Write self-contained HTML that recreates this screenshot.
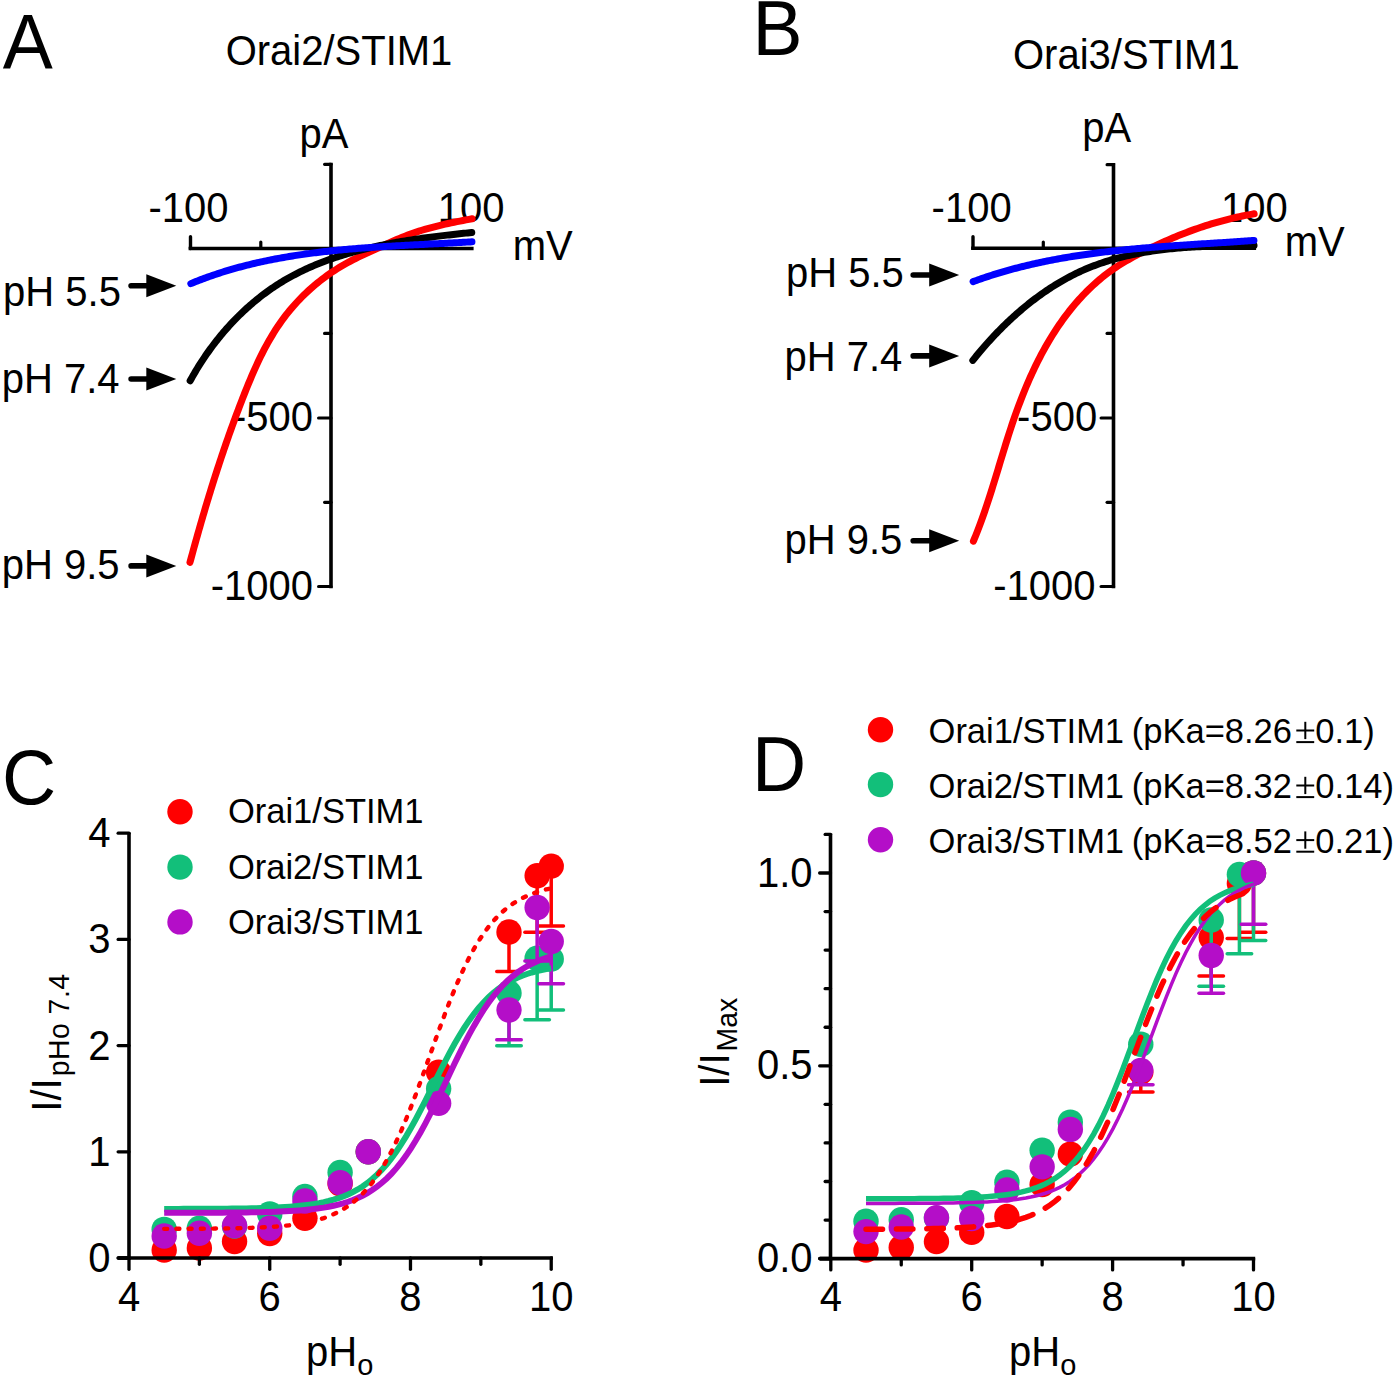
<!DOCTYPE html>
<html><head><meta charset="utf-8"><style>
html,body{margin:0;padding:0;background:#fff;width:1395px;height:1378px;overflow:hidden;}
svg{display:block;}
text{font-family:"Liberation Sans", sans-serif;fill:#000;}
</style></head><body>
<svg width="1395" height="1378" viewBox="0 0 1395 1378">
<rect width="1395" height="1378" fill="#fff"/>
<line x1="331" y1="162.7" x2="331" y2="588.25" stroke="#000" stroke-width="3.6" stroke-linecap="butt" />
<line x1="324.6" y1="164.3" x2="331" y2="164.3" stroke="#000" stroke-width="3.2" stroke-linecap="round" />
<line x1="324.6" y1="333.4" x2="331" y2="333.4" stroke="#000" stroke-width="3.2" stroke-linecap="round" />
<line x1="318.6" y1="418" x2="331" y2="418" stroke="#000" stroke-width="3.2" stroke-linecap="round" />
<line x1="324.6" y1="502.3" x2="331" y2="502.3" stroke="#000" stroke-width="3.2" stroke-linecap="round" />
<line x1="318.6" y1="586.5" x2="331" y2="586.5" stroke="#000" stroke-width="3.2" stroke-linecap="round" />
<line x1="188.6" y1="248.5" x2="473.6" y2="248.5" stroke="#000" stroke-width="3.4" stroke-linecap="butt" />
<line x1="190.5" y1="236.7" x2="190.5" y2="248.5" stroke="#000" stroke-width="3.4" stroke-linecap="round" />
<line x1="260.8" y1="242" x2="260.8" y2="248.5" stroke="#000" stroke-width="3.2" stroke-linecap="round" />
<text transform="translate(299.42,148.2) scale(1,1.04)" font-size="40" text-anchor="start" >pA</text>
<text transform="translate(148.42,221.6) scale(1,1.04)" font-size="40" text-anchor="start" >-100</text>
<text transform="translate(437.85,222) scale(1,1.04)" font-size="40" text-anchor="start" >100</text>
<text transform="translate(512.74,260.3) scale(1,1.04)" font-size="40" text-anchor="start" >mV</text>
<text transform="translate(313.06,430.6) scale(1,1.04)" font-size="40" text-anchor="end" >-500</text>
<text transform="translate(313.06,600.4) scale(1,1.04)" font-size="40" text-anchor="end" >-1000</text>
<text transform="translate(3.12,305.9) scale(1,1.04)" font-size="40" text-anchor="start" >pH 5.5</text>
<text transform="translate(1.72,393.4) scale(1,1.04)" font-size="40" text-anchor="start" >pH 7.4</text>
<text transform="translate(1.72,578.8) scale(1,1.04)" font-size="40" text-anchor="start" >pH 9.5</text>
<line x1="131.1" y1="285.8" x2="154.3" y2="285.8" stroke="#000" stroke-width="5.6" stroke-linecap="round" />
<path d="M146.3,274.3 L176.3,285.8 L146.3,297.3 Z" fill="#000"/>
<line x1="131.1" y1="379" x2="154.3" y2="379" stroke="#000" stroke-width="5.6" stroke-linecap="round" />
<path d="M146.3,367.5 L176.3,379 L146.3,390.5 Z" fill="#000"/>
<line x1="131.1" y1="565.9" x2="154.3" y2="565.9" stroke="#000" stroke-width="5.6" stroke-linecap="round" />
<path d="M146.3,554.4 L176.3,565.9 L146.3,577.4 Z" fill="#000"/>
<text transform="translate(225.7,65.1) scale(1,1.04)" font-size="40" text-anchor="start" >Orai2/STIM1</text>
<text transform="translate(2.85,68.6) scale(1,1.04)" font-size="75" text-anchor="start" >A</text>
<path d="M189.96,562.43 L190.76,559.47 L191.56,556.52 L192.37,553.57 L193.17,550.62 L193.98,547.68 L194.79,544.74 L195.61,541.81 L196.43,538.88 L197.25,535.95 L198.08,533.03 L198.91,530.11 L199.74,527.19 L200.58,524.28 L201.42,521.37 L202.26,518.46 L203.11,515.55 L203.97,512.65 L204.82,509.75 L205.68,506.86 L206.55,503.97 L207.42,501.08 L208.3,498.19 L209.18,495.3 L210.06,492.42 L210.95,489.54 L211.85,486.66 L212.75,483.79 L213.65,480.92 L214.56,478.05 L215.48,475.18 L216.4,472.31 L217.33,469.45 L218.26,466.58 L219.2,463.72 L220.14,460.87 L221.1,458.01 L222.05,455.15 L223.02,452.3 L223.99,449.45 L224.96,446.6 L225.94,443.75 L226.93,440.9 L227.93,438.05 L228.93,435.21 L229.94,432.36 L230.96,429.52 L231.99,426.68 L233.02,423.84 L234.06,421 L235.1,418.16 L236.16,415.32 L237.22,412.48 L238.29,409.65 L239.37,406.81 L240.45,403.97 L241.54,401.14 L242.65,398.3 L243.76,395.47 L244.88,392.63 L246.01,389.8 L247.15,386.97 L248.3,384.15 L249.47,381.33 L250.65,378.52 L251.85,375.71 L253.06,372.91 L254.29,370.13 L255.54,367.35 L256.8,364.58 L258.09,361.82 L259.4,359.07 L260.73,356.34 L262.09,353.63 L263.47,350.92 L264.87,348.24 L266.3,345.57 L267.76,342.92 L269.25,340.29 L270.77,337.68 L272.31,335.09 L273.89,332.52 L275.5,329.97 L277.14,327.45 L278.82,324.95 L280.53,322.48 L282.28,320.04 L284.07,317.62 L285.89,315.23 L287.75,312.87 L289.65,310.53 L291.58,308.23 L293.55,305.96 L295.55,303.71 L297.59,301.5 L299.66,299.32 L301.76,297.17 L303.9,295.05 L306.07,292.96 L308.27,290.9 L310.5,288.88 L312.77,286.89 L315.06,284.93 L317.38,283.01 L319.74,281.12 L322.12,279.27 L324.53,277.45 L326.97,275.67 L329.43,273.92 L331.93,272.21 L334.44,270.54 L336.99,268.91 L339.56,267.31 L342.15,265.75 L344.77,264.22 L347.42,262.74 L350.08,261.3 L352.77,259.89 L355.48,258.51 L358.2,257.16 L360.94,255.84 L363.69,254.54 L366.44,253.26 L369.21,252 L371.97,250.74 L374.74,249.49 L377.5,248.25 L380.26,247.01 L383.02,245.76 L385.76,244.51 L388.5,243.26 L391.24,242.01 L393.98,240.78 L396.72,239.57 L399.47,238.39 L402.23,237.24 L405,236.13 L407.79,235.07 L410.58,234.04 L413.4,233.05 L416.22,232.09 L419.06,231.17 L421.91,230.28 L424.77,229.43 L427.65,228.6 L430.54,227.8 L433.43,227.03 L436.34,226.29 L439.27,225.57 L442.2,224.87 L445.14,224.19 L448.1,223.53 L451.06,222.89 L454.04,222.27 L457.02,221.66 L460.02,221.07 L463.02,220.49 L466.04,219.92 L469.06,219.35 L472.1,218.8" fill="none" stroke="#ff0000" stroke-width="7.0" stroke-linecap="round" stroke-linejoin="round"/>
<path d="M190.15,380.8 L191.17,378.95 L192.2,377.11 L193.25,375.27 L194.31,373.44 L195.38,371.62 L196.47,369.81 L197.57,368 L198.68,366.2 L199.81,364.41 L200.95,362.63 L202.1,360.86 L203.27,359.09 L204.44,357.33 L205.64,355.58 L206.84,353.84 L208.06,352.11 L209.29,350.39 L210.53,348.67 L211.79,346.97 L213.05,345.28 L214.34,343.59 L215.63,341.92 L216.93,340.25 L218.25,338.6 L219.58,336.95 L220.92,335.32 L222.28,333.7 L223.64,332.09 L225.02,330.49 L226.41,328.9 L227.82,327.32 L229.23,325.75 L230.66,324.2 L232.09,322.66 L233.54,321.13 L235,319.61 L236.48,318.1 L237.96,316.61 L239.46,315.13 L240.97,313.66 L242.48,312.21 L244.01,310.77 L245.56,309.34 L247.11,307.93 L248.67,306.53 L250.25,305.14 L251.83,303.77 L253.43,302.42 L255.04,301.07 L256.66,299.74 L258.28,298.43 L259.92,297.13 L261.58,295.85 L263.24,294.58 L264.91,293.33 L266.59,292.09 L268.28,290.87 L269.99,289.67 L271.7,288.48 L273.43,287.31 L275.16,286.15 L276.91,285.01 L278.66,283.89 L280.42,282.78 L282.2,281.69 L283.98,280.62 L285.78,279.57 L287.58,278.53 L289.4,277.51 L291.22,276.5 L293.05,275.51 L294.89,274.54 L296.74,273.58 L298.6,272.64 L300.47,271.72 L302.34,270.81 L304.22,269.91 L306.11,269.03 L308.01,268.16 L309.92,267.31 L311.83,266.48 L313.76,265.65 L315.68,264.85 L317.62,264.05 L319.56,263.27 L321.51,262.51 L323.47,261.75 L325.43,261.01 L327.4,260.29 L329.37,259.57 L331.36,258.87 L333.34,258.19 L335.34,257.51 L337.33,256.85 L339.34,256.2 L341.35,255.56 L343.36,254.93 L345.38,254.32 L347.4,253.71 L349.43,253.12 L351.46,252.54 L353.5,251.97 L355.54,251.41 L357.59,250.86 L359.64,250.33 L361.69,249.8 L363.75,249.28 L365.81,248.78 L367.87,248.28 L369.94,247.79 L372,247.32 L374.08,246.85 L376.15,246.39 L378.23,245.94 L380.31,245.5 L382.39,245.07 L384.47,244.64 L386.56,244.23 L388.64,243.82 L390.73,243.42 L392.82,243.03 L394.91,242.65 L397.01,242.28 L399.1,241.91 L401.19,241.55 L403.29,241.2 L405.38,240.85 L407.48,240.51 L409.57,240.18 L411.67,239.85 L413.76,239.53 L415.86,239.22 L417.95,238.91 L420.05,238.61 L422.14,238.31 L424.23,238.02 L426.33,237.74 L428.42,237.46 L430.5,237.18 L432.59,236.91 L434.68,236.65 L436.76,236.39 L438.84,236.13 L440.92,235.88 L443,235.63 L445.07,235.38 L447.14,235.14 L449.21,234.91 L451.28,234.67 L453.34,234.44 L455.4,234.21 L457.46,233.99 L459.51,233.77 L461.56,233.55 L463.61,233.33 L465.65,233.12 L467.69,232.9 L469.72,232.69 L471.75,232.48" fill="none" stroke="#000" stroke-width="7.0" stroke-linecap="round" stroke-linejoin="round"/>
<path d="M190.83,283.62 L192.5,282.93 L194.17,282.25 L195.84,281.58 L197.52,280.92 L199.19,280.27 L200.87,279.62 L202.55,278.99 L204.24,278.36 L205.92,277.74 L207.61,277.13 L209.3,276.53 L210.99,275.93 L212.69,275.34 L214.39,274.77 L216.08,274.2 L217.79,273.63 L219.49,273.08 L221.19,272.53 L222.9,271.99 L224.61,271.46 L226.32,270.93 L228.03,270.42 L229.75,269.91 L231.46,269.41 L233.18,268.91 L234.9,268.42 L236.63,267.94 L238.35,267.47 L240.07,267 L241.8,266.54 L243.53,266.09 L245.26,265.65 L247,265.21 L248.73,264.77 L250.47,264.35 L252.2,263.93 L253.94,263.52 L255.68,263.11 L257.43,262.71 L259.17,262.32 L260.92,261.93 L262.66,261.55 L264.41,261.18 L266.16,260.81 L267.92,260.44 L269.67,260.09 L271.42,259.74 L273.18,259.39 L274.94,259.05 L276.7,258.72 L278.46,258.39 L280.22,258.07 L281.98,257.75 L283.74,257.44 L285.51,257.13 L287.28,256.83 L289.04,256.53 L290.81,256.24 L292.58,255.96 L294.35,255.67 L296.13,255.4 L297.9,255.13 L299.67,254.86 L301.45,254.6 L303.23,254.34 L305,254.09 L306.78,253.84 L308.56,253.6 L310.34,253.36 L312.12,253.13 L313.91,252.9 L315.69,252.67 L317.47,252.45 L319.26,252.23 L321.05,252.02 L322.83,251.81 L324.62,251.6 L326.41,251.4 L328.2,251.2 L329.99,251.01 L331.78,250.82 L333.57,250.63 L335.36,250.45 L337.15,250.27 L338.95,250.09 L340.74,249.92 L342.53,249.75 L344.33,249.58 L346.12,249.41 L347.92,249.25 L349.72,249.1 L351.51,248.94 L353.31,248.79 L355.11,248.64 L356.91,248.49 L358.71,248.35 L360.51,248.21 L362.31,248.07 L364.11,247.93 L365.91,247.8 L367.71,247.67 L369.51,247.54 L371.31,247.41 L373.11,247.28 L374.91,247.16 L376.71,247.04 L378.51,246.92 L380.32,246.8 L382.12,246.69 L383.92,246.58 L385.72,246.46 L387.52,246.35 L389.33,246.25 L391.13,246.14 L392.93,246.03 L394.73,245.93 L396.54,245.83 L398.34,245.72 L400.14,245.62 L401.94,245.52 L403.74,245.42 L405.55,245.33 L407.35,245.23 L409.15,245.13 L410.95,245.04 L412.75,244.95 L414.55,244.85 L416.35,244.76 L418.15,244.67 L419.95,244.57 L421.75,244.48 L423.55,244.39 L425.35,244.3 L427.15,244.21 L428.95,244.12 L430.74,244.03 L432.54,243.94 L434.34,243.84 L436.13,243.75 L437.93,243.66 L439.73,243.57 L441.52,243.48 L443.31,243.39 L445.11,243.29 L446.9,243.2 L448.69,243.11 L450.48,243.01 L452.27,242.92 L454.07,242.82 L455.85,242.73 L457.64,242.63 L459.43,242.53 L461.22,242.43 L463,242.33 L464.79,242.23 L466.57,242.12 L468.36,242.02 L470.14,241.91 L471.92,241.81" fill="none" stroke="#0000ff" stroke-width="7.0" stroke-linecap="round" stroke-linejoin="round"/>
<line x1="1113.5" y1="163.1" x2="1113.5" y2="588.25" stroke="#000" stroke-width="3.6" stroke-linecap="butt" />
<line x1="1107.1" y1="164.7" x2="1113.5" y2="164.7" stroke="#000" stroke-width="3.2" stroke-linecap="round" />
<line x1="1107.1" y1="333.4" x2="1113.5" y2="333.4" stroke="#000" stroke-width="3.2" stroke-linecap="round" />
<line x1="1101.1" y1="418" x2="1113.5" y2="418" stroke="#000" stroke-width="3.2" stroke-linecap="round" />
<line x1="1107.1" y1="502.3" x2="1113.5" y2="502.3" stroke="#000" stroke-width="3.2" stroke-linecap="round" />
<line x1="1101.1" y1="586.5" x2="1113.5" y2="586.5" stroke="#000" stroke-width="3.2" stroke-linecap="round" />
<line x1="971.1" y1="248.2" x2="1256.1" y2="248.2" stroke="#000" stroke-width="3.4" stroke-linecap="butt" />
<line x1="973" y1="236.7" x2="973" y2="248.2" stroke="#000" stroke-width="3.4" stroke-linecap="round" />
<line x1="1043.3" y1="242" x2="1043.3" y2="248.2" stroke="#000" stroke-width="3.2" stroke-linecap="round" />
<text transform="translate(1082.22,141.8) scale(1,1.04)" font-size="40" text-anchor="start" >pA</text>
<text transform="translate(931.62,221.8) scale(1,1.04)" font-size="40" text-anchor="start" >-100</text>
<text transform="translate(1220.95,221.6) scale(1,1.04)" font-size="40" text-anchor="start" >100</text>
<text transform="translate(1284.64,256) scale(1,1.04)" font-size="40" text-anchor="start" >mV</text>
<text transform="translate(1097.16,430.7) scale(1,1.04)" font-size="40" text-anchor="end" >-500</text>
<text transform="translate(1095.56,600.4) scale(1,1.04)" font-size="40" text-anchor="end" >-1000</text>
<text transform="translate(786.02,287.3) scale(1,1.04)" font-size="40" text-anchor="start" >pH 5.5</text>
<text transform="translate(784.42,370.9) scale(1,1.04)" font-size="40" text-anchor="start" >pH 7.4</text>
<text transform="translate(784.42,553.6) scale(1,1.04)" font-size="40" text-anchor="start" >pH 9.5</text>
<line x1="913.2" y1="275" x2="937.2" y2="275" stroke="#000" stroke-width="5.6" stroke-linecap="round" />
<path d="M929.2,263.5 L959.2,275 L929.2,286.5 Z" fill="#000"/>
<line x1="913.2" y1="355.9" x2="937.2" y2="355.9" stroke="#000" stroke-width="5.6" stroke-linecap="round" />
<path d="M929.2,344.4 L959.2,355.9 L929.2,367.4 Z" fill="#000"/>
<line x1="913.2" y1="540.7" x2="937.2" y2="540.7" stroke="#000" stroke-width="5.6" stroke-linecap="round" />
<path d="M929.2,529.2 L959.2,540.7 L929.2,552.2 Z" fill="#000"/>
<text transform="translate(1013,69.4) scale(1,1.04)" font-size="40" text-anchor="start" >Orai3/STIM1</text>
<text transform="translate(752.45,55) scale(1,1.04)" font-size="75" text-anchor="start" >B</text>
<path d="M973.42,541.15 L974.55,538.43 L975.66,535.7 L976.74,532.97 L977.81,530.23 L978.86,527.49 L979.9,524.75 L980.91,522 L981.91,519.26 L982.89,516.5 L983.86,513.75 L984.82,510.99 L985.76,508.23 L986.69,505.47 L987.6,502.71 L988.51,499.94 L989.41,497.17 L990.3,494.4 L991.18,491.63 L992.05,488.85 L992.91,486.08 L993.77,483.3 L994.63,480.52 L995.48,477.75 L996.32,474.97 L997.17,472.19 L998.01,469.4 L998.85,466.62 L999.69,463.84 L1000.53,461.06 L1001.38,458.28 L1002.22,455.5 L1003.07,452.72 L1003.92,449.94 L1004.77,447.16 L1005.63,444.38 L1006.5,441.6 L1007.38,438.82 L1008.26,436.05 L1009.15,433.27 L1010.05,430.5 L1010.96,427.73 L1011.88,424.96 L1012.81,422.19 L1013.75,419.42 L1014.71,416.66 L1015.68,413.9 L1016.67,411.14 L1017.67,408.38 L1018.68,405.63 L1019.72,402.89 L1020.76,400.14 L1021.82,397.41 L1022.9,394.68 L1024,391.95 L1025.11,389.23 L1026.24,386.52 L1027.38,383.82 L1028.55,381.12 L1029.73,378.43 L1030.93,375.75 L1032.15,373.08 L1033.38,370.42 L1034.64,367.78 L1035.92,365.14 L1037.21,362.51 L1038.53,359.89 L1039.87,357.29 L1041.22,354.7 L1042.6,352.12 L1044,349.56 L1045.42,347.01 L1046.87,344.47 L1048.34,341.95 L1049.82,339.45 L1051.34,336.96 L1052.87,334.48 L1054.43,332.03 L1056.01,329.59 L1057.62,327.17 L1059.25,324.76 L1060.91,322.38 L1062.59,320.01 L1064.3,317.67 L1066.03,315.34 L1067.79,313.04 L1069.57,310.75 L1071.38,308.49 L1073.22,306.25 L1075.09,304.03 L1076.98,301.84 L1078.9,299.67 L1080.85,297.53 L1082.82,295.41 L1084.83,293.32 L1086.86,291.25 L1088.92,289.22 L1091.01,287.22 L1093.13,285.24 L1095.28,283.3 L1097.46,281.38 L1099.66,279.5 L1101.9,277.65 L1104.17,275.84 L1106.47,274.06 L1108.79,272.31 L1111.15,270.6 L1113.54,268.93 L1115.96,267.29 L1118.41,265.69 L1120.89,264.12 L1123.39,262.59 L1125.92,261.09 L1128.46,259.61 L1131.02,258.17 L1133.6,256.75 L1136.19,255.35 L1138.8,253.98 L1141.41,252.63 L1144.03,251.29 L1146.66,249.98 L1149.29,248.68 L1151.92,247.4 L1154.56,246.14 L1157.2,244.89 L1159.84,243.67 L1162.49,242.46 L1165.15,241.26 L1167.81,240.09 L1170.48,238.94 L1173.15,237.8 L1175.83,236.68 L1178.51,235.59 L1181.2,234.51 L1183.9,233.45 L1186.6,232.41 L1189.32,231.39 L1192.03,230.39 L1194.76,229.41 L1197.49,228.45 L1200.23,227.51 L1202.98,226.59 L1205.74,225.69 L1208.51,224.82 L1211.28,223.96 L1214.07,223.13 L1216.86,222.31 L1219.66,221.52 L1222.48,220.76 L1225.3,220.01 L1228.13,219.29 L1230.97,218.59 L1233.83,217.91 L1236.69,217.25 L1239.57,216.62 L1242.45,216.01 L1245.35,215.43 L1248.26,214.86 L1251.18,214.33 L1254.12,213.81" fill="none" stroke="#ff0000" stroke-width="7.0" stroke-linecap="round" stroke-linejoin="round"/>
<path d="M972.83,360.42 L974.05,358.88 L975.27,357.35 L976.51,355.83 L977.76,354.31 L979.02,352.79 L980.29,351.27 L981.57,349.76 L982.86,348.26 L984.15,346.76 L985.46,345.26 L986.78,343.77 L988.1,342.28 L989.44,340.8 L990.78,339.33 L992.14,337.86 L993.5,336.39 L994.88,334.94 L996.26,333.49 L997.65,332.04 L999.05,330.6 L1000.46,329.17 L1001.88,327.75 L1003.31,326.34 L1004.74,324.93 L1006.19,323.53 L1007.64,322.13 L1009.11,320.75 L1010.58,319.37 L1012.06,318.01 L1013.55,316.65 L1015.05,315.3 L1016.56,313.96 L1018.07,312.63 L1019.59,311.3 L1021.13,309.99 L1022.67,308.69 L1024.22,307.4 L1025.77,306.12 L1027.34,304.85 L1028.91,303.59 L1030.49,302.34 L1032.08,301.1 L1033.68,299.87 L1035.29,298.66 L1036.9,297.45 L1038.52,296.26 L1040.15,295.08 L1041.79,293.92 L1043.44,292.76 L1045.09,291.62 L1046.75,290.49 L1048.42,289.38 L1050.09,288.27 L1051.78,287.18 L1053.47,286.11 L1055.17,285.05 L1056.87,284 L1058.58,282.97 L1060.3,281.95 L1062.03,280.95 L1063.77,279.96 L1065.51,278.98 L1067.26,278.03 L1069.01,277.08 L1070.77,276.16 L1072.54,275.24 L1074.32,274.35 L1076.1,273.47 L1077.89,272.61 L1079.69,271.76 L1081.5,270.93 L1083.31,270.12 L1085.12,269.33 L1086.95,268.55 L1088.78,267.79 L1090.61,267.05 L1092.46,266.32 L1094.3,265.61 L1096.16,264.92 L1098.02,264.25 L1099.89,263.58 L1101.76,262.94 L1103.63,262.31 L1105.52,261.7 L1107.41,261.1 L1109.3,260.52 L1111.2,259.95 L1113.1,259.4 L1115.01,258.86 L1116.92,258.33 L1118.84,257.82 L1120.76,257.33 L1122.69,256.85 L1124.62,256.38 L1126.56,255.92 L1128.5,255.48 L1130.44,255.05 L1132.39,254.63 L1134.34,254.23 L1136.29,253.84 L1138.25,253.46 L1140.21,253.09 L1142.18,252.73 L1144.15,252.39 L1146.12,252.06 L1148.09,251.73 L1150.07,251.42 L1152.05,251.12 L1154.03,250.83 L1156.02,250.55 L1158,250.28 L1159.99,250.02 L1161.98,249.78 L1163.98,249.54 L1165.97,249.31 L1167.97,249.08 L1169.97,248.87 L1171.97,248.67 L1173.98,248.47 L1175.98,248.29 L1177.99,248.11 L1179.99,247.94 L1182,247.78 L1184.01,247.62 L1186.02,247.48 L1188.03,247.34 L1190.04,247.2 L1192.05,247.08 L1194.06,246.96 L1196.08,246.84 L1198.09,246.74 L1200.1,246.64 L1202.11,246.54 L1204.12,246.45 L1206.14,246.37 L1208.15,246.29 L1210.16,246.21 L1212.17,246.15 L1214.18,246.08 L1216.19,246.02 L1218.2,245.97 L1220.2,245.92 L1222.21,245.87 L1224.21,245.82 L1226.22,245.78 L1228.22,245.75 L1230.22,245.71 L1232.22,245.68 L1234.21,245.65 L1236.21,245.63 L1238.2,245.61 L1240.19,245.58 L1242.18,245.56 L1244.16,245.55 L1246.14,245.53 L1248.13,245.52 L1250.1,245.5 L1252.08,245.49 L1254.05,245.48" fill="none" stroke="#000" stroke-width="7.0" stroke-linecap="round" stroke-linejoin="round"/>
<path d="M973.1,281.66 L974.79,281.04 L976.47,280.43 L978.16,279.82 L979.85,279.22 L981.55,278.63 L983.24,278.05 L984.94,277.47 L986.64,276.9 L988.34,276.33 L990.04,275.78 L991.74,275.23 L993.45,274.69 L995.16,274.15 L996.87,273.62 L998.58,273.1 L1000.29,272.59 L1002.01,272.08 L1003.72,271.58 L1005.44,271.08 L1007.16,270.59 L1008.88,270.11 L1010.6,269.64 L1012.33,269.17 L1014.05,268.7 L1015.78,268.25 L1017.51,267.79 L1019.24,267.35 L1020.97,266.91 L1022.71,266.48 L1024.44,266.05 L1026.18,265.63 L1027.91,265.22 L1029.65,264.81 L1031.39,264.4 L1033.14,264.01 L1034.88,263.61 L1036.62,263.23 L1038.37,262.85 L1040.12,262.47 L1041.87,262.1 L1043.61,261.74 L1045.37,261.38 L1047.12,261.02 L1048.87,260.67 L1050.63,260.33 L1052.38,259.99 L1054.14,259.65 L1055.9,259.33 L1057.66,259 L1059.42,258.68 L1061.18,258.37 L1062.94,258.06 L1064.7,257.75 L1066.47,257.45 L1068.23,257.15 L1070,256.86 L1071.77,256.58 L1073.54,256.29 L1075.31,256.01 L1077.08,255.74 L1078.85,255.47 L1080.62,255.2 L1082.39,254.94 L1084.17,254.68 L1085.94,254.43 L1087.72,254.18 L1089.49,253.94 L1091.27,253.69 L1093.05,253.46 L1094.83,253.22 L1096.61,252.99 L1098.39,252.76 L1100.17,252.54 L1101.95,252.32 L1103.73,252.1 L1105.51,251.89 L1107.3,251.68 L1109.08,251.47 L1110.86,251.27 L1112.65,251.07 L1114.43,250.87 L1116.22,250.68 L1118.01,250.48 L1119.79,250.3 L1121.58,250.11 L1123.37,249.93 L1125.16,249.75 L1126.95,249.57 L1128.74,249.4 L1130.53,249.23 L1132.32,249.06 L1134.11,248.89 L1135.9,248.73 L1137.69,248.56 L1139.48,248.4 L1141.27,248.25 L1143.06,248.09 L1144.86,247.94 L1146.65,247.79 L1148.44,247.64 L1150.23,247.49 L1152.03,247.35 L1153.82,247.2 L1155.61,247.06 L1157.41,246.92 L1159.2,246.79 L1160.99,246.65 L1162.79,246.52 L1164.58,246.38 L1166.37,246.25 L1168.17,246.12 L1169.96,245.99 L1171.75,245.87 L1173.55,245.74 L1175.34,245.61 L1177.14,245.49 L1178.93,245.37 L1180.72,245.25 L1182.52,245.13 L1184.31,245.01 L1186.1,244.89 L1187.89,244.77 L1189.69,244.65 L1191.48,244.54 L1193.27,244.42 L1195.06,244.31 L1196.85,244.19 L1198.65,244.08 L1200.44,243.97 L1202.23,243.85 L1204.02,243.74 L1205.81,243.63 L1207.6,243.51 L1209.39,243.4 L1211.17,243.29 L1212.96,243.18 L1214.75,243.07 L1216.54,242.95 L1218.32,242.84 L1220.11,242.73 L1221.9,242.62 L1223.68,242.5 L1225.47,242.39 L1227.25,242.28 L1229.03,242.16 L1230.82,242.05 L1232.6,241.93 L1234.38,241.82 L1236.16,241.7 L1237.94,241.58 L1239.72,241.47 L1241.5,241.35 L1243.28,241.23 L1245.06,241.11 L1246.83,240.99 L1248.61,240.86 L1250.38,240.74 L1252.16,240.61 L1253.93,240.49" fill="none" stroke="#0000ff" stroke-width="7.0" stroke-linecap="round" stroke-linejoin="round"/>
<line x1="509" y1="931.97" x2="509" y2="971.4" stroke="#ff0000" stroke-width="3.5" stroke-linecap="butt" />
<line x1="496.75" y1="971.4" x2="521.25" y2="971.4" stroke="#ff0000" stroke-width="3.5" stroke-linecap="round" />
<line x1="537.15" y1="875.68" x2="537.15" y2="932.3" stroke="#ff0000" stroke-width="3.5" stroke-linecap="butt" />
<line x1="524.9" y1="932.3" x2="549.4" y2="932.3" stroke="#ff0000" stroke-width="3.5" stroke-linecap="round" />
<line x1="551.22" y1="866.12" x2="551.22" y2="926" stroke="#ff0000" stroke-width="3.5" stroke-linecap="butt" />
<line x1="538.97" y1="926" x2="563.47" y2="926" stroke="#ff0000" stroke-width="3.5" stroke-linecap="round" />
<circle cx="164.19" cy="1249.93" r="12.7" fill="#ff0000"/>
<circle cx="199.37" cy="1248.02" r="12.7" fill="#ff0000"/>
<circle cx="234.56" cy="1241.54" r="12.7" fill="#ff0000"/>
<circle cx="269.74" cy="1233.57" r="12.7" fill="#ff0000"/>
<circle cx="304.93" cy="1218.28" r="12.7" fill="#ff0000"/>
<circle cx="340.11" cy="1183.66" r="12.7" fill="#ff0000"/>
<circle cx="368.26" cy="1151.8" r="12.7" fill="#ff0000"/>
<circle cx="438.63" cy="1072.15" r="12.7" fill="#ff0000"/>
<circle cx="509" cy="931.97" r="12.7" fill="#ff0000"/>
<circle cx="537.15" cy="875.68" r="12.7" fill="#ff0000"/>
<circle cx="551.22" cy="866.12" r="12.7" fill="#ff0000"/>
<line x1="509" y1="993.03" x2="509" y2="1045.8" stroke="#12bf7a" stroke-width="3.5" stroke-linecap="butt" />
<line x1="496.75" y1="1045.8" x2="521.25" y2="1045.8" stroke="#12bf7a" stroke-width="3.5" stroke-linecap="round" />
<line x1="537.15" y1="958.2" x2="537.15" y2="1019.7" stroke="#12bf7a" stroke-width="3.5" stroke-linecap="butt" />
<line x1="524.9" y1="1019.7" x2="549.4" y2="1019.7" stroke="#12bf7a" stroke-width="3.5" stroke-linecap="round" />
<line x1="551.22" y1="959.05" x2="551.22" y2="1010" stroke="#12bf7a" stroke-width="3.5" stroke-linecap="butt" />
<line x1="538.97" y1="1010" x2="563.47" y2="1010" stroke="#12bf7a" stroke-width="3.5" stroke-linecap="round" />
<circle cx="164.19" cy="1229.33" r="12.7" fill="#12bf7a"/>
<circle cx="199.37" cy="1228.26" r="12.7" fill="#12bf7a"/>
<circle cx="234.56" cy="1226.14" r="12.7" fill="#12bf7a"/>
<circle cx="269.74" cy="1214.03" r="12.7" fill="#12bf7a"/>
<circle cx="304.93" cy="1196.4" r="12.7" fill="#12bf7a"/>
<circle cx="340.11" cy="1172.51" r="12.7" fill="#12bf7a"/>
<circle cx="368.26" cy="1151.8" r="12.7" fill="#12bf7a"/>
<circle cx="438.63" cy="1088.82" r="12.7" fill="#12bf7a"/>
<circle cx="509" cy="993.03" r="12.7" fill="#12bf7a"/>
<circle cx="537.15" cy="958.2" r="12.7" fill="#12bf7a"/>
<circle cx="551.22" cy="959.05" r="12.7" fill="#12bf7a"/>
<line x1="509" y1="1010.02" x2="509" y2="1039.7" stroke="#b40ec8" stroke-width="3.5" stroke-linecap="butt" />
<line x1="496.75" y1="1039.7" x2="521.25" y2="1039.7" stroke="#b40ec8" stroke-width="3.5" stroke-linecap="round" />
<line x1="537.15" y1="907.54" x2="537.15" y2="961" stroke="#b40ec8" stroke-width="3.5" stroke-linecap="butt" />
<line x1="524.9" y1="961" x2="549.4" y2="961" stroke="#b40ec8" stroke-width="3.5" stroke-linecap="round" />
<line x1="551.22" y1="941.52" x2="551.22" y2="983.8" stroke="#b40ec8" stroke-width="3.5" stroke-linecap="butt" />
<line x1="538.97" y1="983.8" x2="563.47" y2="983.8" stroke="#b40ec8" stroke-width="3.5" stroke-linecap="round" />
<circle cx="164.19" cy="1236.02" r="12.7" fill="#b40ec8"/>
<circle cx="199.37" cy="1233.26" r="12.7" fill="#b40ec8"/>
<circle cx="234.56" cy="1225.82" r="12.7" fill="#b40ec8"/>
<circle cx="269.74" cy="1228.26" r="12.7" fill="#b40ec8"/>
<circle cx="304.93" cy="1200.97" r="12.7" fill="#b40ec8"/>
<circle cx="340.11" cy="1182.81" r="12.7" fill="#b40ec8"/>
<circle cx="368.26" cy="1151.8" r="12.7" fill="#b40ec8"/>
<circle cx="438.63" cy="1103.37" r="12.7" fill="#b40ec8"/>
<circle cx="509" cy="1010.02" r="12.7" fill="#b40ec8"/>
<circle cx="537.15" cy="907.54" r="12.7" fill="#b40ec8"/>
<circle cx="551.22" cy="941.52" r="12.7" fill="#b40ec8"/>
<path d="M164.19,1208.9 L169.02,1208.89 L173.86,1208.88 L178.7,1208.88 L183.54,1208.86 L188.37,1208.85 L193.21,1208.84 L198.05,1208.82 L202.89,1208.8 L207.73,1208.78 L212.56,1208.75 L217.4,1208.72 L222.24,1208.68 L227.08,1208.64 L231.92,1208.59 L236.75,1208.53 L241.59,1208.46 L246.43,1208.38 L251.27,1208.29 L256.11,1208.18 L260.94,1208.05 L265.78,1207.9 L270.62,1207.72 L275.46,1207.51 L280.3,1207.27 L285.13,1206.98 L289.97,1206.65 L294.81,1206.26 L299.65,1205.81 L304.49,1205.28 L309.32,1204.67 L314.16,1203.95 L319,1203.12 L323.84,1202.15 L328.67,1201.02 L333.51,1199.71 L338.35,1198.2 L343.19,1196.45 L348.03,1194.44 L352.86,1192.12 L357.7,1189.46 L362.54,1186.43 L367.38,1182.98 L372.22,1179.07 L377.05,1174.66 L381.89,1169.72 L386.73,1164.21 L391.57,1158.13 L396.41,1151.45 L401.24,1144.19 L406.08,1136.37 L410.92,1128.02 L415.76,1119.21 L420.6,1110.02 L425.43,1100.54 L430.27,1090.89 L435.11,1081.17 L439.95,1071.51 L444.79,1062.04 L449.62,1052.85 L454.46,1044.05 L459.3,1035.71 L464.14,1027.9 L468.98,1020.65 L473.81,1013.99 L478.65,1007.91 L483.49,1002.42 L488.33,997.49 L493.16,993.09 L498,989.19 L502.84,985.74 L507.68,982.72 L512.52,980.07 L517.35,977.76 L522.19,975.75 L527.03,974 L531.87,972.49 L536.71,971.19 L541.54,970.07 L546.38,969.1 L551.22,968.27" fill="none" stroke="#12bf7a" stroke-width="6" />
<path d="M164.19,1212.83 L169.02,1212.83 L173.86,1212.82 L178.7,1212.81 L183.54,1212.8 L188.37,1212.79 L193.21,1212.78 L198.05,1212.77 L202.89,1212.75 L207.73,1212.73 L212.56,1212.71 L217.4,1212.68 L222.24,1212.65 L227.08,1212.62 L231.92,1212.58 L236.75,1212.53 L241.59,1212.47 L246.43,1212.41 L251.27,1212.33 L256.11,1212.24 L260.94,1212.14 L265.78,1212.02 L270.62,1211.88 L275.46,1211.71 L280.3,1211.52 L285.13,1211.3 L289.97,1211.04 L294.81,1210.75 L299.65,1210.4 L304.49,1209.99 L309.32,1209.52 L314.16,1208.97 L319,1208.34 L323.84,1207.6 L328.67,1206.75 L333.51,1205.76 L338.35,1204.62 L343.19,1203.3 L348.03,1201.78 L352.86,1200.03 L357.7,1198.01 L362.54,1195.71 L367.38,1193.07 L372.22,1190.07 L377.05,1186.66 L381.89,1182.8 L386.73,1178.46 L391.57,1173.59 L396.41,1168.16 L401.24,1162.16 L406.08,1155.56 L410.92,1148.35 L415.76,1140.56 L420.6,1132.2 L425.43,1123.32 L430.27,1113.98 L435.11,1104.27 L439.95,1094.29 L444.79,1084.13 L449.62,1073.93 L454.46,1063.8 L459.3,1053.85 L464.14,1044.2 L468.98,1034.93 L473.81,1026.14 L478.65,1017.87 L483.49,1010.18 L488.33,1003.08 L493.16,996.58 L498,990.67 L502.84,985.35 L507.68,980.57 L512.52,976.31 L517.35,972.53 L522.19,969.2 L527.03,966.26 L531.87,963.68 L536.71,961.43 L541.54,959.46 L546.38,957.75 L551.22,956.27" fill="none" stroke="#b40ec8" stroke-width="6" />
<path d="M164.19,1228.84 L169.02,1228.83 L173.86,1228.81 L178.7,1228.8 L183.54,1228.78 L188.37,1228.76 L193.21,1228.74 L198.05,1228.71 L202.89,1228.68 L207.73,1228.64 L212.56,1228.6 L217.4,1228.55 L222.24,1228.49 L227.08,1228.42 L231.92,1228.33 L236.75,1228.24 L241.59,1228.13 L246.43,1227.99 L251.27,1227.84 L256.11,1227.66 L260.94,1227.45 L265.78,1227.21 L270.62,1226.92 L275.46,1226.59 L280.3,1226.2 L285.13,1225.74 L289.97,1225.22 L294.81,1224.6 L299.65,1223.88 L304.49,1223.04 L309.32,1222.06 L314.16,1220.93 L319,1219.62 L323.84,1218.09 L328.67,1216.32 L333.51,1214.28 L338.35,1211.92 L343.19,1209.2 L348.03,1206.08 L352.86,1202.5 L357.7,1198.41 L362.54,1193.76 L367.38,1188.49 L372.22,1182.55 L377.05,1175.89 L381.89,1168.46 L386.73,1160.23 L391.57,1151.18 L396.41,1141.32 L401.24,1130.66 L406.08,1119.26 L410.92,1107.17 L415.76,1094.51 L420.6,1081.39 L425.43,1067.96 L430.27,1054.37 L435.11,1040.79 L439.95,1027.39 L444.79,1014.32 L449.62,1001.72 L454.46,989.72 L459.3,978.4 L464.14,967.84 L468.98,958.08 L473.81,949.13 L478.65,941.01 L483.49,933.67 L488.33,927.1 L493.16,921.24 L498,916.06 L502.84,911.48 L507.68,907.46 L512.52,903.94 L517.35,900.87 L522.19,898.2 L527.03,895.88 L531.87,893.87 L536.71,892.13 L541.54,890.63 L546.38,889.34 L551.22,888.23" fill="none" stroke="#ff0000" stroke-width="4.4" stroke-dasharray="3 9.2" stroke-linecap="round"/>
<line x1="129" y1="832.5" x2="129" y2="1259.7" stroke="#000" stroke-width="3.6" stroke-linecap="butt" />
<line x1="118.15" y1="1258" x2="129" y2="1258" stroke="#000" stroke-width="3.3" stroke-linecap="round" />
<line x1="118.15" y1="1151.8" x2="129" y2="1151.8" stroke="#000" stroke-width="3.3" stroke-linecap="round" />
<line x1="118.15" y1="1045.6" x2="129" y2="1045.6" stroke="#000" stroke-width="3.3" stroke-linecap="round" />
<line x1="118.15" y1="939.4" x2="129" y2="939.4" stroke="#000" stroke-width="3.3" stroke-linecap="round" />
<line x1="118.15" y1="833.2" x2="129" y2="833.2" stroke="#000" stroke-width="3.3" stroke-linecap="round" />
<line x1="118.3" y1="1258" x2="552.92" y2="1258" stroke="#000" stroke-width="3.6" stroke-linecap="butt" />
<line x1="118.3" y1="1258" x2="129" y2="1258" stroke="#000" stroke-width="3.6" stroke-linecap="round" />
<line x1="129" y1="1258" x2="129" y2="1269.35" stroke="#000" stroke-width="3.3" stroke-linecap="round" />
<line x1="269.74" y1="1258" x2="269.74" y2="1269.35" stroke="#000" stroke-width="3.3" stroke-linecap="round" />
<line x1="410.48" y1="1258" x2="410.48" y2="1269.35" stroke="#000" stroke-width="3.3" stroke-linecap="round" />
<line x1="551.22" y1="1258" x2="551.22" y2="1269.35" stroke="#000" stroke-width="3.3" stroke-linecap="round" />
<line x1="199.37" y1="1258" x2="199.37" y2="1264.35" stroke="#000" stroke-width="3.3" stroke-linecap="round" />
<line x1="340.11" y1="1258" x2="340.11" y2="1264.35" stroke="#000" stroke-width="3.3" stroke-linecap="round" />
<line x1="480.85" y1="1258" x2="480.85" y2="1264.35" stroke="#000" stroke-width="3.3" stroke-linecap="round" />
<text transform="translate(129,1311) scale(1,1.04)" font-size="40" text-anchor="middle" >4</text>
<text transform="translate(269.74,1311) scale(1,1.04)" font-size="40" text-anchor="middle" >6</text>
<text transform="translate(410.48,1311) scale(1,1.04)" font-size="40" text-anchor="middle" >8</text>
<text transform="translate(551.22,1311) scale(1,1.04)" font-size="40" text-anchor="middle" >10</text>
<text transform="translate(110.5,1272) scale(1,1.04)" font-size="40" text-anchor="end" >0</text>
<text transform="translate(110.5,1165.8) scale(1,1.04)" font-size="40" text-anchor="end" >1</text>
<text transform="translate(110.5,1059.6) scale(1,1.04)" font-size="40" text-anchor="end" >2</text>
<text transform="translate(110.5,953.4) scale(1,1.04)" font-size="40" text-anchor="end" >3</text>
<text transform="translate(110.5,847.2) scale(1,1.04)" font-size="40" text-anchor="end" >4</text>
<text transform="translate(1.99,804.1) scale(1,1.04)" font-size="75" text-anchor="start" >C</text>
<circle cx="180" cy="811.8" r="12.7" fill="#ff0000"/>
<text transform="translate(227.96,823) scale(1,1.04)" font-size="34.5" text-anchor="start" >Orai1/STIM1</text>
<circle cx="180" cy="867.1" r="12.7" fill="#12bf7a"/>
<text transform="translate(227.96,878.5) scale(1,1.04)" font-size="34.5" text-anchor="start" >Orai2/STIM1</text>
<circle cx="180" cy="921.9" r="12.7" fill="#b40ec8"/>
<text transform="translate(227.96,933.8) scale(1,1.04)" font-size="34.5" text-anchor="start" >Orai3/STIM1</text>
<text transform="translate(306.02,1366.2) scale(1,1.04)" font-size="40">pH<tspan font-size="29" dy="8.3">o</tspan></text>
<text transform="translate(60.6,1111.7) rotate(-90) scale(1,1.04)" font-size="40">I/I<tspan font-size="28.4" dy="8.2" dx="2" letter-spacing="0.5">pHo 7.4</tspan></text>
<line x1="1140.78" y1="1071.97" x2="1140.78" y2="1091.9" stroke="#ff0000" stroke-width="3.5" stroke-linecap="butt" />
<line x1="1128.53" y1="1091.9" x2="1153.03" y2="1091.9" stroke="#ff0000" stroke-width="3.5" stroke-linecap="round" />
<line x1="1211.23" y1="937.4" x2="1211.23" y2="976" stroke="#ff0000" stroke-width="3.5" stroke-linecap="butt" />
<line x1="1198.98" y1="976" x2="1223.48" y2="976" stroke="#ff0000" stroke-width="3.5" stroke-linecap="round" />
<line x1="1239.41" y1="883.41" x2="1239.41" y2="938.4" stroke="#ff0000" stroke-width="3.5" stroke-linecap="butt" />
<line x1="1227.16" y1="938.4" x2="1251.66" y2="938.4" stroke="#ff0000" stroke-width="3.5" stroke-linecap="round" />
<line x1="1253.5" y1="873" x2="1253.5" y2="932.3" stroke="#ff0000" stroke-width="3.5" stroke-linecap="butt" />
<line x1="1241.25" y1="932.3" x2="1265.75" y2="932.3" stroke="#ff0000" stroke-width="3.5" stroke-linecap="round" />
<circle cx="866.02" cy="1250.12" r="12.7" fill="#ff0000"/>
<circle cx="901.25" cy="1247.42" r="12.7" fill="#ff0000"/>
<circle cx="936.47" cy="1241.63" r="12.7" fill="#ff0000"/>
<circle cx="971.7" cy="1232.38" r="12.7" fill="#ff0000"/>
<circle cx="1006.92" cy="1216.57" r="12.7" fill="#ff0000"/>
<circle cx="1042.15" cy="1184.56" r="12.7" fill="#ff0000"/>
<circle cx="1070.33" cy="1154.1" r="12.7" fill="#ff0000"/>
<circle cx="1140.78" cy="1071.97" r="12.7" fill="#ff0000"/>
<circle cx="1211.23" cy="937.4" r="12.7" fill="#ff0000"/>
<circle cx="1239.41" cy="883.41" r="12.7" fill="#ff0000"/>
<circle cx="1253.5" cy="873" r="12.7" fill="#ff0000"/>
<line x1="1211.23" y1="920.04" x2="1211.23" y2="986.2" stroke="#12bf7a" stroke-width="3.5" stroke-linecap="butt" />
<line x1="1198.98" y1="986.2" x2="1223.48" y2="986.2" stroke="#12bf7a" stroke-width="3.5" stroke-linecap="round" />
<line x1="1239.41" y1="874.54" x2="1239.41" y2="953.7" stroke="#12bf7a" stroke-width="3.5" stroke-linecap="butt" />
<line x1="1227.16" y1="953.7" x2="1251.66" y2="953.7" stroke="#12bf7a" stroke-width="3.5" stroke-linecap="round" />
<line x1="1253.5" y1="873" x2="1253.5" y2="940.4" stroke="#12bf7a" stroke-width="3.5" stroke-linecap="butt" />
<line x1="1241.25" y1="940.4" x2="1265.75" y2="940.4" stroke="#12bf7a" stroke-width="3.5" stroke-linecap="round" />
<circle cx="866.02" cy="1221.2" r="12.7" fill="#12bf7a"/>
<circle cx="901.25" cy="1219.65" r="12.7" fill="#12bf7a"/>
<circle cx="936.47" cy="1218.11" r="12.7" fill="#12bf7a"/>
<circle cx="971.7" cy="1202.69" r="12.7" fill="#12bf7a"/>
<circle cx="1006.92" cy="1182.25" r="12.7" fill="#12bf7a"/>
<circle cx="1042.15" cy="1150.25" r="12.7" fill="#12bf7a"/>
<circle cx="1070.33" cy="1122.1" r="12.7" fill="#12bf7a"/>
<circle cx="1140.78" cy="1044.21" r="12.7" fill="#12bf7a"/>
<circle cx="1211.23" cy="920.04" r="12.7" fill="#12bf7a"/>
<circle cx="1239.41" cy="874.54" r="12.7" fill="#12bf7a"/>
<circle cx="1253.5" cy="873" r="12.7" fill="#12bf7a"/>
<line x1="1140.78" y1="1070.43" x2="1140.78" y2="1084.8" stroke="#b40ec8" stroke-width="3.5" stroke-linecap="butt" />
<line x1="1128.53" y1="1084.8" x2="1153.03" y2="1084.8" stroke="#b40ec8" stroke-width="3.5" stroke-linecap="round" />
<line x1="1211.23" y1="955.52" x2="1211.23" y2="993.3" stroke="#b40ec8" stroke-width="3.5" stroke-linecap="butt" />
<line x1="1198.98" y1="993.3" x2="1223.48" y2="993.3" stroke="#b40ec8" stroke-width="3.5" stroke-linecap="round" />
<line x1="1253.5" y1="873" x2="1253.5" y2="924.2" stroke="#b40ec8" stroke-width="3.5" stroke-linecap="butt" />
<line x1="1241.25" y1="924.2" x2="1265.75" y2="924.2" stroke="#b40ec8" stroke-width="3.5" stroke-linecap="round" />
<circle cx="866.02" cy="1231.61" r="12.7" fill="#b40ec8"/>
<circle cx="901.25" cy="1226.98" r="12.7" fill="#b40ec8"/>
<circle cx="936.47" cy="1217.73" r="12.7" fill="#b40ec8"/>
<circle cx="971.7" cy="1218.5" r="12.7" fill="#b40ec8"/>
<circle cx="1006.92" cy="1189.96" r="12.7" fill="#b40ec8"/>
<circle cx="1042.15" cy="1166.83" r="12.7" fill="#b40ec8"/>
<circle cx="1070.33" cy="1129.42" r="12.7" fill="#b40ec8"/>
<circle cx="1140.78" cy="1070.43" r="12.7" fill="#b40ec8"/>
<circle cx="1211.23" cy="955.52" r="12.7" fill="#b40ec8"/>
<circle cx="1253.5" cy="873" r="12.7" fill="#b40ec8"/>
<path d="M866.02,1198.8 L870.87,1198.79 L875.71,1198.78 L880.56,1198.77 L885.4,1198.76 L890.24,1198.75 L895.09,1198.74 L899.93,1198.72 L904.77,1198.7 L909.62,1198.68 L914.46,1198.65 L919.3,1198.62 L924.15,1198.58 L928.99,1198.53 L933.83,1198.48 L938.68,1198.41 L943.52,1198.34 L948.36,1198.25 L953.21,1198.15 L958.05,1198.03 L962.89,1197.88 L967.74,1197.71 L972.58,1197.51 L977.42,1197.28 L982.27,1197 L987.11,1196.68 L991.95,1196.29 L996.8,1195.84 L1001.64,1195.31 L1006.48,1194.69 L1011.33,1193.96 L1016.17,1193.11 L1021.01,1192.1 L1025.86,1190.93 L1030.7,1189.56 L1035.55,1187.95 L1040.39,1186.09 L1045.23,1183.91 L1050.08,1181.39 L1054.92,1178.46 L1059.76,1175.09 L1064.61,1171.2 L1069.45,1166.76 L1074.29,1161.68 L1079.14,1155.92 L1083.98,1149.43 L1088.82,1142.15 L1093.67,1134.06 L1098.51,1125.14 L1103.35,1115.39 L1108.2,1104.85 L1113.04,1093.56 L1117.88,1081.62 L1122.73,1069.14 L1127.57,1056.27 L1132.41,1043.17 L1137.26,1030 L1142.1,1016.96 L1146.94,1004.2 L1151.79,991.89 L1156.63,980.16 L1161.47,969.12 L1166.32,958.83 L1171.16,949.36 L1176.01,940.72 L1180.85,932.91 L1185.69,925.9 L1190.54,919.67 L1195.38,914.15 L1200.22,909.29 L1205.07,905.04 L1209.91,901.33 L1214.75,898.12 L1219.6,895.33 L1224.44,892.93 L1229.28,890.87 L1234.13,889.09 L1238.97,887.57 L1243.81,886.27 L1248.66,885.15 L1253.5,884.2" fill="none" stroke="#12bf7a" stroke-width="5.5" />
<path d="M866.02,1203.43 L870.87,1203.42 L875.71,1203.42 L880.56,1203.41 L885.4,1203.4 L890.24,1203.39 L895.09,1203.38 L899.93,1203.37 L904.77,1203.35 L909.62,1203.33 L914.46,1203.31 L919.3,1203.29 L924.15,1203.26 L928.99,1203.22 L933.83,1203.18 L938.68,1203.14 L943.52,1203.08 L948.36,1203.02 L953.21,1202.94 L958.05,1202.85 L962.89,1202.75 L967.74,1202.62 L972.58,1202.48 L977.42,1202.31 L982.27,1202.12 L987.11,1201.89 L991.95,1201.62 L996.8,1201.31 L1001.64,1200.94 L1006.48,1200.51 L1011.33,1200.02 L1016.17,1199.43 L1021.01,1198.75 L1025.86,1197.96 L1030.7,1197.03 L1035.55,1195.95 L1040.39,1194.7 L1045.23,1193.24 L1050.08,1191.56 L1054.92,1189.6 L1059.76,1187.34 L1064.61,1184.73 L1069.45,1181.73 L1074.29,1178.29 L1079.14,1174.35 L1083.98,1169.86 L1088.82,1164.77 L1093.67,1159.03 L1098.51,1152.58 L1103.35,1145.39 L1108.2,1137.42 L1113.04,1128.66 L1117.88,1119.1 L1122.73,1108.78 L1127.57,1097.74 L1132.41,1086.04 L1137.26,1073.81 L1142.1,1061.15 L1146.94,1048.2 L1151.79,1035.14 L1156.63,1022.11 L1161.47,1009.28 L1166.32,996.81 L1171.16,984.81 L1176.01,973.42 L1180.85,962.71 L1185.69,952.74 L1190.54,943.56 L1195.38,935.17 L1200.22,927.57 L1205.07,920.74 L1209.91,914.63 L1214.75,909.2 L1219.6,904.41 L1224.44,900.19 L1229.28,896.49 L1234.13,893.26 L1238.97,890.45 L1243.81,888.01 L1248.66,885.9 L1253.5,884.07" fill="none" stroke="#b40ec8" stroke-width="3.5" />
<path d="M866.02,1229.21 L870.87,1229.19 L875.71,1229.17 L880.56,1229.16 L885.4,1229.13 L890.24,1229.11 L895.09,1229.08 L899.93,1229.04 L904.77,1229 L909.62,1228.95 L914.46,1228.9 L919.3,1228.83 L924.15,1228.76 L928.99,1228.67 L933.83,1228.57 L938.68,1228.46 L943.52,1228.32 L948.36,1228.17 L953.21,1227.98 L958.05,1227.77 L962.89,1227.53 L967.74,1227.25 L972.58,1226.92 L977.42,1226.54 L982.27,1226.1 L987.11,1225.59 L991.95,1225 L996.8,1224.31 L1001.64,1223.52 L1006.48,1222.61 L1011.33,1221.56 L1016.17,1220.34 L1021.01,1218.94 L1025.86,1217.32 L1030.7,1215.47 L1035.55,1213.34 L1040.39,1210.9 L1045.23,1208.12 L1050.08,1204.94 L1054.92,1201.33 L1059.76,1197.23 L1064.61,1192.6 L1069.45,1187.4 L1074.29,1181.57 L1079.14,1175.07 L1083.98,1167.87 L1088.82,1159.93 L1093.67,1151.26 L1098.51,1141.84 L1103.35,1131.7 L1108.2,1120.87 L1113.04,1109.42 L1117.88,1097.42 L1122.73,1084.99 L1127.57,1072.24 L1132.41,1059.31 L1137.26,1046.34 L1142.1,1033.48 L1146.94,1020.86 L1151.79,1008.61 L1156.63,996.85 L1161.47,985.68 L1166.32,975.15 L1171.16,965.34 L1176.01,956.25 L1180.85,947.92 L1185.69,940.32 L1190.54,933.44 L1195.38,927.25 L1200.22,921.71 L1205.07,916.77 L1209.91,912.39 L1214.75,908.52 L1219.6,905.11 L1224.44,902.12 L1229.28,899.5 L1234.13,897.2 L1238.97,895.2 L1243.81,893.46 L1248.66,891.95 L1253.5,890.63" fill="none" stroke="#ff0000" stroke-width="5.5" stroke-dasharray="16.5 13.9" stroke-linecap="round"/>
<line x1="830.5" y1="833.6" x2="830.5" y2="1260.3" stroke="#000" stroke-width="3.6" stroke-linecap="butt" />
<line x1="819.65" y1="1258.6" x2="830.5" y2="1258.6" stroke="#000" stroke-width="3.3" stroke-linecap="round" />
<line x1="819.65" y1="1065.8" x2="830.5" y2="1065.8" stroke="#000" stroke-width="3.3" stroke-linecap="round" />
<line x1="819.65" y1="873" x2="830.5" y2="873" stroke="#000" stroke-width="3.3" stroke-linecap="round" />
<line x1="825.15" y1="1220.04" x2="830.5" y2="1220.04" stroke="#000" stroke-width="3.3" stroke-linecap="round" />
<line x1="825.15" y1="1181.48" x2="830.5" y2="1181.48" stroke="#000" stroke-width="3.3" stroke-linecap="round" />
<line x1="825.15" y1="1142.92" x2="830.5" y2="1142.92" stroke="#000" stroke-width="3.3" stroke-linecap="round" />
<line x1="825.15" y1="1104.36" x2="830.5" y2="1104.36" stroke="#000" stroke-width="3.3" stroke-linecap="round" />
<line x1="825.15" y1="1027.24" x2="830.5" y2="1027.24" stroke="#000" stroke-width="3.3" stroke-linecap="round" />
<line x1="825.15" y1="988.68" x2="830.5" y2="988.68" stroke="#000" stroke-width="3.3" stroke-linecap="round" />
<line x1="825.15" y1="950.12" x2="830.5" y2="950.12" stroke="#000" stroke-width="3.3" stroke-linecap="round" />
<line x1="825.15" y1="911.56" x2="830.5" y2="911.56" stroke="#000" stroke-width="3.3" stroke-linecap="round" />
<line x1="825.15" y1="834.44" x2="830.5" y2="834.44" stroke="#000" stroke-width="3.3" stroke-linecap="round" />
<line x1="819.8" y1="1258.6" x2="1255.2" y2="1258.6" stroke="#000" stroke-width="3.6" stroke-linecap="butt" />
<line x1="819.8" y1="1258.6" x2="830.5" y2="1258.6" stroke="#000" stroke-width="3.6" stroke-linecap="round" />
<line x1="830.8" y1="1258.6" x2="830.8" y2="1269.95" stroke="#000" stroke-width="3.3" stroke-linecap="round" />
<line x1="971.7" y1="1258.6" x2="971.7" y2="1269.95" stroke="#000" stroke-width="3.3" stroke-linecap="round" />
<line x1="1112.6" y1="1258.6" x2="1112.6" y2="1269.95" stroke="#000" stroke-width="3.3" stroke-linecap="round" />
<line x1="1253.5" y1="1258.6" x2="1253.5" y2="1269.95" stroke="#000" stroke-width="3.3" stroke-linecap="round" />
<line x1="901.25" y1="1258.6" x2="901.25" y2="1264.95" stroke="#000" stroke-width="3.3" stroke-linecap="round" />
<line x1="1042.15" y1="1258.6" x2="1042.15" y2="1264.95" stroke="#000" stroke-width="3.3" stroke-linecap="round" />
<line x1="1183.05" y1="1258.6" x2="1183.05" y2="1264.95" stroke="#000" stroke-width="3.3" stroke-linecap="round" />
<text transform="translate(830.8,1311) scale(1,1.04)" font-size="40" text-anchor="middle" >4</text>
<text transform="translate(971.7,1311) scale(1,1.04)" font-size="40" text-anchor="middle" >6</text>
<text transform="translate(1112.6,1311) scale(1,1.04)" font-size="40" text-anchor="middle" >8</text>
<text transform="translate(1253.5,1311) scale(1,1.04)" font-size="40" text-anchor="middle" >10</text>
<text transform="translate(812.6,1272.1) scale(1,1.04)" font-size="40" text-anchor="end" >0.0</text>
<text transform="translate(812.6,1079.3) scale(1,1.04)" font-size="40" text-anchor="end" >0.5</text>
<text transform="translate(812.6,886.5) scale(1,1.04)" font-size="40" text-anchor="end" >1.0</text>
<text transform="translate(751.95,791.2) scale(1,1.04)" font-size="75" text-anchor="start" >D</text>
<circle cx="880.5" cy="729.8" r="12.7" fill="#ff0000"/>
<text transform="translate(928.56,743) scale(1,1.04)" font-size="34.5" text-anchor="start" >Orai1/STIM1</text>
<text transform="translate(1131.86,743) scale(1,1.04)" font-size="34.5" text-anchor="start" >(pKa=8.26</text>
<line x1="1296.3" y1="730.5" x2="1314.2" y2="730.5" stroke="#000" stroke-width="2.0" stroke-linecap="butt" />
<line x1="1296.3" y1="742.1" x2="1314.2" y2="742.1" stroke="#000" stroke-width="2.0" stroke-linecap="butt" />
<line x1="1305.3" y1="721.8" x2="1305.3" y2="739.1" stroke="#000" stroke-width="2.0" stroke-linecap="butt" />
<text transform="translate(1315.25,743) scale(1,1.04)" font-size="34.5" text-anchor="start" >0.1)</text>
<circle cx="880.5" cy="784.6" r="12.7" fill="#12bf7a"/>
<text transform="translate(928.56,798) scale(1,1.04)" font-size="34.5" text-anchor="start" >Orai2/STIM1</text>
<text transform="translate(1131.86,798) scale(1,1.04)" font-size="34.5" text-anchor="start" >(pKa=8.32</text>
<line x1="1296.3" y1="785.5" x2="1314.2" y2="785.5" stroke="#000" stroke-width="2.0" stroke-linecap="butt" />
<line x1="1296.3" y1="797.1" x2="1314.2" y2="797.1" stroke="#000" stroke-width="2.0" stroke-linecap="butt" />
<line x1="1305.3" y1="776.8" x2="1305.3" y2="794.1" stroke="#000" stroke-width="2.0" stroke-linecap="butt" />
<text transform="translate(1315.25,798) scale(1,1.04)" font-size="34.5" text-anchor="start" >0.14)</text>
<circle cx="880.5" cy="839.7" r="12.7" fill="#b40ec8"/>
<text transform="translate(928.56,852.6) scale(1,1.04)" font-size="34.5" text-anchor="start" >Orai3/STIM1</text>
<text transform="translate(1131.86,852.6) scale(1,1.04)" font-size="34.5" text-anchor="start" >(pKa=8.52</text>
<line x1="1296.3" y1="840.1" x2="1314.2" y2="840.1" stroke="#000" stroke-width="2.0" stroke-linecap="butt" />
<line x1="1296.3" y1="851.7" x2="1314.2" y2="851.7" stroke="#000" stroke-width="2.0" stroke-linecap="butt" />
<line x1="1305.3" y1="831.4" x2="1305.3" y2="848.7" stroke="#000" stroke-width="2.0" stroke-linecap="butt" />
<text transform="translate(1315.25,852.6) scale(1,1.04)" font-size="34.5" text-anchor="start" >0.21)</text>
<text transform="translate(1009.02,1366.4) scale(1,1.04)" font-size="40">pH<tspan font-size="29" dy="8.3">o</tspan></text>
<text transform="translate(728.9,1086.8) rotate(-90) scale(1,1.04)" font-size="40">I/I<tspan font-size="28.4" dy="8.2" dx="2">Max</tspan></text>
</svg></body></html>
